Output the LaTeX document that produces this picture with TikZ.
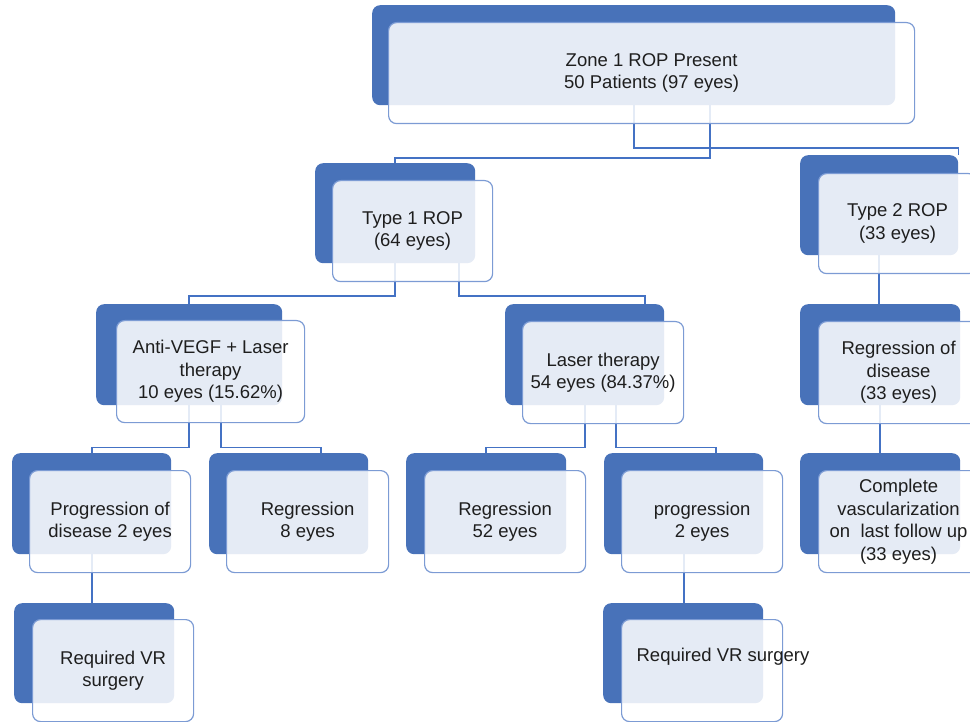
\documentclass[tikz,border=0pt]{standalone}
\usepackage{fontspec}
\setmainfont{Liberation Sans}
\usetikzlibrary{calc}
\definecolor{backblue}{RGB}{72,114,185}
\definecolor{frontline}{RGB}{124,155,212}
\definecolor{connblue}{RGB}{68,114,196}
\definecolor{txt}{RGB}{30,30,30}
\tikzset{
  backbox/.style={rectangle, rounded corners=8pt, fill=backblue, draw=none, inner sep=0pt, anchor=north west},
  frontbox/.style={rectangle, rounded corners=8pt, fill=white, fill opacity=0.86, text opacity=1, draw=frontline, draw opacity=1, line width=1.2pt, inner sep=0pt, anchor=north west, align=center, text=txt, font=\fontsize{18.5}{22.5}\selectfont},
  lbl/.style={text=txt, font=\fontsize{18.5}{22.5}\selectfont, inner sep=0pt, align=center},
  conn/.style={draw=connblue, line width=1.8pt}
}
\begin{document}
\begin{tikzpicture}[x=1pt,y=-1pt]
\useasboundingbox (0,0) rectangle (970,722);
\clip (0,0) rectangle (970,722);
% back boxes
\node[backbox, minimum width=523pt, minimum height=100pt] (zB) at (372,5) {};
\node[backbox, minimum width=160pt, minimum height=100pt] (t1B) at (315,163) {};
\node[backbox, minimum width=158pt, minimum height=100pt] (t2B) at (800,155) {};
\node[backbox, minimum width=186pt, minimum height=101pt] (avB) at (96,304) {};
\node[backbox, minimum width=159pt, minimum height=101pt] (laB) at (505,304) {};
\node[backbox, minimum width=160pt, minimum height=101pt] (rdB) at (800,304) {};
\node[backbox, minimum width=159pt, minimum height=101pt] (pdB) at (12,453) {};
\node[backbox, minimum width=159pt, minimum height=101pt] (r8B) at (209,453) {};
\node[backbox, minimum width=160pt, minimum height=101pt] (r52B) at (406,453) {};
\node[backbox, minimum width=159pt, minimum height=101pt] (p2B) at (604,453) {};
\node[backbox, minimum width=160pt, minimum height=101pt] (cvB) at (800,453) {};
\node[backbox, minimum width=160pt, minimum height=100pt] (vr1B) at (14,603) {};
\node[backbox, minimum width=160pt, minimum height=100pt] (vr2B) at (603,603) {};
% connectors
\draw[conn] (zB.south) -- ++(0,43) -| (t2B.north east);
\draw[conn] ([xshift=76pt]zB.south) -- ++(0,53) -| (t1B.north);
\draw[conn] (t1B.south) -- ++(0,33) -| (avB.north);
\draw[conn] ([xshift=64pt]t1B.south) -- ++(0,33) -| ([xshift=60.5pt]laB.north);
\draw[conn] (avB.south) -- ++(0,42) -| (pdB.north);
\draw[conn] ([xshift=32pt]avB.south) -- ++(0,42) -| ([xshift=32pt]r8B.north);
\draw[conn] (laB.south) -- ++(0,42) -| (r52B.north);
\draw[conn] ([xshift=31pt]laB.south) -- ++(0,42) -| ([xshift=32pt]p2B.north);
\draw[conn] (pdB.south) -- (pdB.south |- vr1B.north);
\draw[conn] (p2B.south) -- (p2B.south |- vr2B.north);
\draw[conn] (t2B.south) -- (t2B.south |- rdB.north);
\draw[conn] (rdB.south) -- (rdB.south |- cvB.north);
% front boxes
\node[frontbox, minimum width=526pt, minimum height=101pt] (zF) at (388,22) {Zone 1 ROP Present\\50 Patients (97 eyes)};
\node[frontbox, minimum width=160pt, minimum height=101pt] (t1F) at (332,180) {Type 1 ROP\\(64 eyes)};
\node[frontbox, minimum width=158pt, minimum height=100pt] (t2F) at (818,173) {Type 2 ROP\\(33 eyes)};
\node[frontbox, minimum width=188pt, minimum height=102pt] (avF) at (116,320) {Anti-VEGF + Laser\\therapy\\10 eyes (15.62\%)};
\node[frontbox, minimum width=161pt, minimum height=102pt] (laF) at (522,321) {Laser therapy\\54 eyes (84.37\%)};
\node[frontbox, minimum width=160pt, minimum height=102pt] (rdF) at (818,321) {Regression of\\disease\\(33 eyes)};
\node[frontbox, minimum width=161pt, minimum height=102pt] (pdF) at (29,470) {Progression of\\disease 2 eyes};
\node[frontbox, minimum width=162pt, minimum height=102pt] (r8F) at (226,470) {Regression\\8 eyes};
\node[frontbox, minimum width=161pt, minimum height=102pt] (r52F) at (424,470) {Regression\\52 eyes};
\node[frontbox, minimum width=161pt, minimum height=102pt] (p2F) at (621,470) {progression\\2 eyes};
\node[frontbox, minimum width=160pt, minimum height=102pt] (cvF) at (818,470) {Complete\\vascularization\\on\ \ last follow up\\(33 eyes)};
\node[frontbox, minimum width=161pt, minimum height=102pt] (vr1F) at (32,619) {Required VR\\surgery};
\node[frontbox, minimum width=161pt, minimum height=102pt] (vr2F) at (621,619) {};
\node[lbl] (vr2T) at (723,657) {Required VR surgery};
\end{tikzpicture}
\end{document}
